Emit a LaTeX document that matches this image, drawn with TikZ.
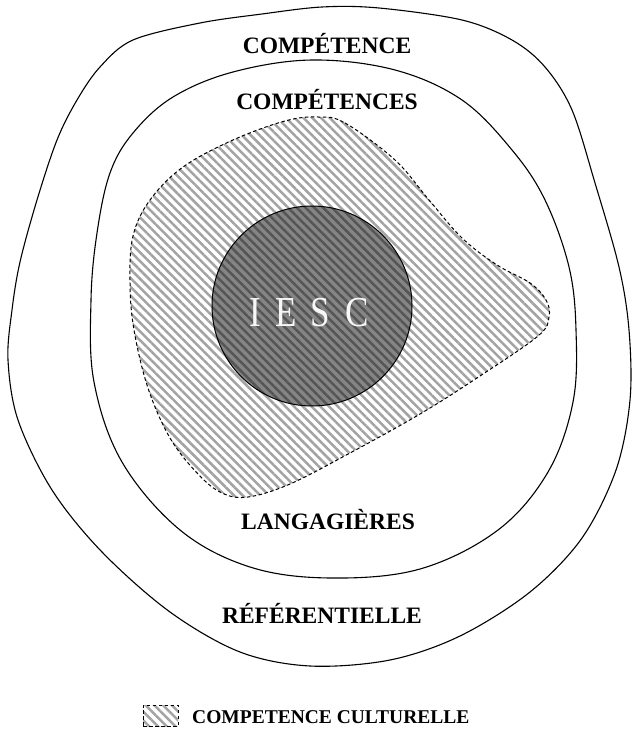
\documentclass[tikz,border=0pt]{standalone}
\usepackage{fontspec}
\setmainfont{Liberation Serif}
\usetikzlibrary{patterns.meta}
\tikzset{
  ring/.style={draw=black, line width=1.1pt},
  hatch/.style={pattern={Lines[angle=-45,distance=6.2pt,line width=2.5pt]}, pattern color=black!36},
  dashedge/.style={draw=black, line width=1pt, dash pattern=on 3.5pt off 2.5pt},
  lab/.style={font=\fontsize{23.5}{23.5}\selectfont\bfseries, inner sep=0pt},
}
\begin{document}
\begin{tikzpicture}[x=1pt,y=-1pt]
\useasboundingbox (0,0) rectangle (632,735);
% outer blob
\draw[ring] plot[smooth cycle, tension=0.55] coordinates {
 (322,7) (379,8) (462,20) (512,40) (545,67) (572,110) (595,183) (619,267) (629,330)
 (630,400) (616,470) (582,538) (530,592) (460,636) (390,660) (310,666) (240,652) (170,612)
 (102,552) (52,490) (18,420) (8,360) (12,310) (20,262) (37,200) (57,140) (77,100)
 (100,67) (133,40) (200,23) (262,14)};
% middle ring
\draw[ring] plot[smooth cycle, tension=0.6] coordinates {
 (312,60) (395,70) (462,100) (512,150) (545,200) (569,267) (576,330) (573,402) (548,472)
 (498,530) (420,569) (330,578) (250,567) (180,530) (122,462) (94,382) (91,300)
 (97,233) (110,173) (133,133) (173,97) (233,72)};
% cultural competence region
\path[hatch] plot[smooth cycle, tension=0.6] coordinates {
 (318,117) (345,123) (395,160) (429,200) (462,238) (497,265) (530,283) (546,300) (549,317)
 (538,336) (480,376) (420,414) (350,453) (290,484) (248,497) (222,493) (198,474)
 (170,438) (148,388) (134,330) (130,283) (133,236) (150,200) (183,167) (233,140) (285,121)};
\draw[dashedge] plot[smooth cycle, tension=0.6] coordinates {
 (318,117) (345,123) (395,160) (429,200) (462,238) (497,265) (530,283) (546,300) (549,317)
 (538,336) (480,376) (420,414) (350,453) (290,484) (248,497) (222,493) (198,474)
 (170,438) (148,388) (134,330) (130,283) (133,236) (150,200) (183,167) (233,140) (285,121)};
% IESC core
\node (core) [circle, minimum size=200pt, inner sep=0pt, fill=black, fill opacity=0.48, draw=black, draw opacity=1, line width=1pt] at (312,306) {};
\node (iesc) [font=\fontsize{35}{35}\selectfont, text=white!94!gray, inner sep=0pt] at (309,313)
  {\scalebox{1}[1.22]{I\hspace{14pt}E\hspace{14pt}S\hspace{15pt}C}};
% labels
\node (l1) [lab] at (327,44) {COMPÉTENCE};
\node (l2) [lab] at (327,100) {COMPÉTENCES};
\node (l3) [lab] at (328,520) {LANGAGIÈRES};
\node (l4) [lab] at (322,613) {RÉFÉRENTIELLE};
% legend
\path[hatch] (143,705) rectangle (178,726);
\node (key) [dashedge, minimum width=35pt, minimum height=21pt, inner sep=0pt] at (160.5,715.5) {};
\node (keytext) [font=\fontsize{19.5}{19.5}\selectfont\bfseries, inner sep=0pt, anchor=west] at (192,717) {COMPETENCE CULTURELLE};
\end{tikzpicture}
\end{document}
